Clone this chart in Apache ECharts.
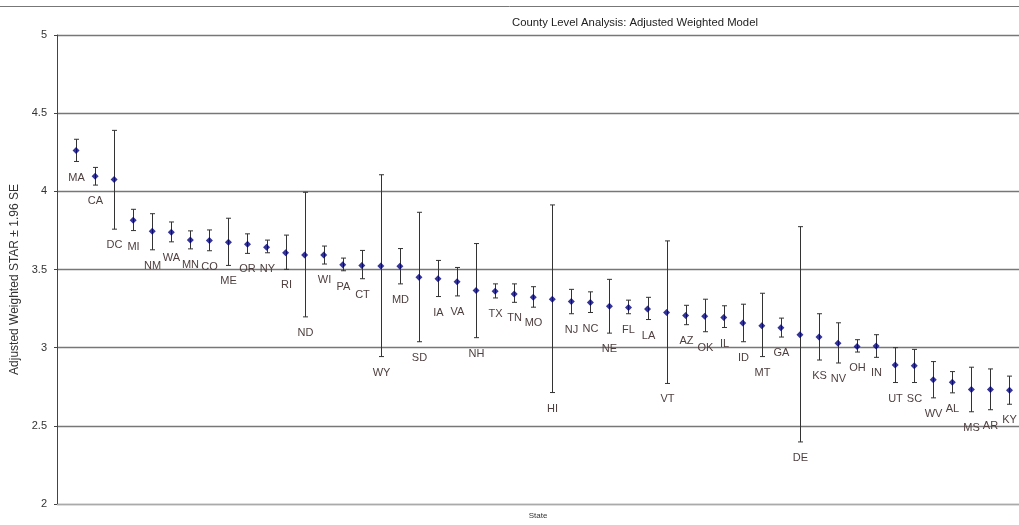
<!DOCTYPE html>
<html>
<head>
<meta charset="utf-8">
<script src="https://cdn.jsdelivr.net/npm/echarts@6/dist/echarts.min.js"></script>
<style>html,body{margin:0;padding:0;background:#fff;}#c{width:1019px;height:525px;}</style>
</head>
<body>
<div id="c"></div>
<script>
const states = ['MA','CA','DC','MI','NM','WA','MN','CO','ME','OR','NY','RI','ND','WI','PA','CT','WY','MD','SD','IA','VA','NH','TX','TN','MO','HI','NJ','NC','NE','FL','LA','VT','AZ','OK','IL','ID','MT','GA','DE','KS','NV','OH','IN','UT','SC','WV','AL','MS','AR','KY'];
const means = [4.261,4.096,4.076,3.815,3.745,3.739,3.688,3.685,3.675,3.662,3.643,3.607,3.592,3.592,3.531,3.526,3.522,3.520,3.450,3.441,3.422,3.365,3.361,3.344,3.322,3.310,3.295,3.289,3.265,3.257,3.248,3.225,3.206,3.201,3.193,3.157,3.140,3.127,3.083,3.068,3.029,3.008,3.010,2.889,2.885,2.794,2.779,2.732,2.732,2.728];
const upper = [4.333,4.153,4.390,3.885,3.857,3.804,3.747,3.753,3.828,3.728,3.688,3.720,3.994,3.650,3.573,3.622,4.106,3.634,3.866,3.558,3.513,3.666,3.408,3.408,3.390,3.913,3.373,3.357,3.437,3.304,3.322,3.683,3.271,3.310,3.268,3.278,3.348,3.189,3.774,3.217,3.159,3.051,3.083,3.000,2.989,2.911,2.847,2.875,2.864,2.818];
const lower = [4.191,4.040,3.758,3.749,3.626,3.677,3.632,3.620,3.526,3.603,3.607,3.501,3.197,3.535,3.492,3.441,2.943,3.408,3.038,3.327,3.331,3.064,3.318,3.290,3.259,2.713,3.217,3.225,3.093,3.217,3.180,2.771,3.147,3.102,3.129,3.038,2.943,3.068,2.397,2.921,2.902,2.972,2.938,2.777,2.777,2.679,2.711,2.590,2.603,2.638];
const yTicks = [2, 2.5, 3, 3.5, 4, 4.5, 5];

const font = '"Liberation Sans", Arial, sans-serif';
const chart = echarts.init(document.getElementById('c'), null, {renderer: 'canvas'});

const barData = states.map((s, i) => [i + 1, lower[i], upper[i], s]);
const pointData = states.map((s, i) => [i + 1, means[i]]);

chart.setOption({
  animation: false,
  backgroundColor: '#fff',
  title: {
    text: 'County Level Analysis: Adjusted Weighted Model',
    left: 507, top: 12,
    textStyle: {fontFamily: font, fontSize: 11.3, fontWeight: 'normal', color: '#222'}
  },
  graphic: [{
    type: 'line', shape: {x1: 0, y1: 6.5, x2: 1019, y2: 6.5},
    style: {stroke: '#777', lineWidth: 1}, silent: true
  }],
  grid: {left: 57, right: 0, top: 35, bottom: 18},
  xAxis: {
    type: 'value', min: 0, max: 50.5,
    name: 'State', nameLocation: 'middle', nameGap: 8,
    nameTextStyle: {fontFamily: font, fontSize: 8, color: '#333'},
    axisLine: {show: true, lineStyle: {color: '#aaa', width: 1}},
    axisTick: {show: false}, axisLabel: {show: false}, splitLine: {show: false}
  },
  yAxis: {
    type: 'value', min: 2, max: 5, interval: 0.5,
    name: 'Adjusted Weighted STAR ± 1.96 SE', nameLocation: 'middle', nameGap: 35,
    nameTextStyle: {fontFamily: font, fontSize: 12, color: '#333', padding: [0, 20, 0, 0]},
    axisLine: {show: true, lineStyle: {color: '#444', width: 1}},
    axisTick: {show: true, length: 3, lineStyle: {color: '#444'}},
    axisLabel: {fontFamily: font, fontSize: 11, color: '#333', margin: 10,
      formatter: v => yTicks.indexOf(v) >= 0 ? String(v) : ''},
    splitLine: {show: true, lineStyle: {color: '#777', width: 1.3}}
  },
  series: [{
    type: 'custom',
    data: barData,
    renderItem: function (params, api) {
      const x = api.value(0);
      const lo = api.coord([x, api.value(1)]);
      const hi = api.coord([x, api.value(2)]);
      const cx = Math.round(lo[0]) + 0.5;
      const cap = 2.5;
      const st = {stroke: '#333', lineWidth: 1};
      return {
        type: 'group',
        children: [
          {type: 'line', shape: {x1: cx, y1: hi[1], x2: cx, y2: lo[1]}, style: st},
          {type: 'line', shape: {x1: cx - cap, y1: hi[1], x2: cx + cap, y2: hi[1]}, style: st},
          {type: 'line', shape: {x1: cx - cap, y1: lo[1], x2: cx + cap, y2: lo[1]}, style: st},
          {type: 'text', style: {text: states[params.dataIndex], x: cx, y: lo[1] + 16,
            textAlign: 'center', textVerticalAlign: 'middle',
            font: '11px ' + font, fill: '#4e3e3e'}}
        ]
      };
    },
    z: 2
  }, {
    type: 'scatter',
    data: pointData,
    symbol: 'diamond',
    symbolSize: 7,
    itemStyle: {color: '#000080'},
    z: 3
  }]
});
</script>
</body>
</html>
